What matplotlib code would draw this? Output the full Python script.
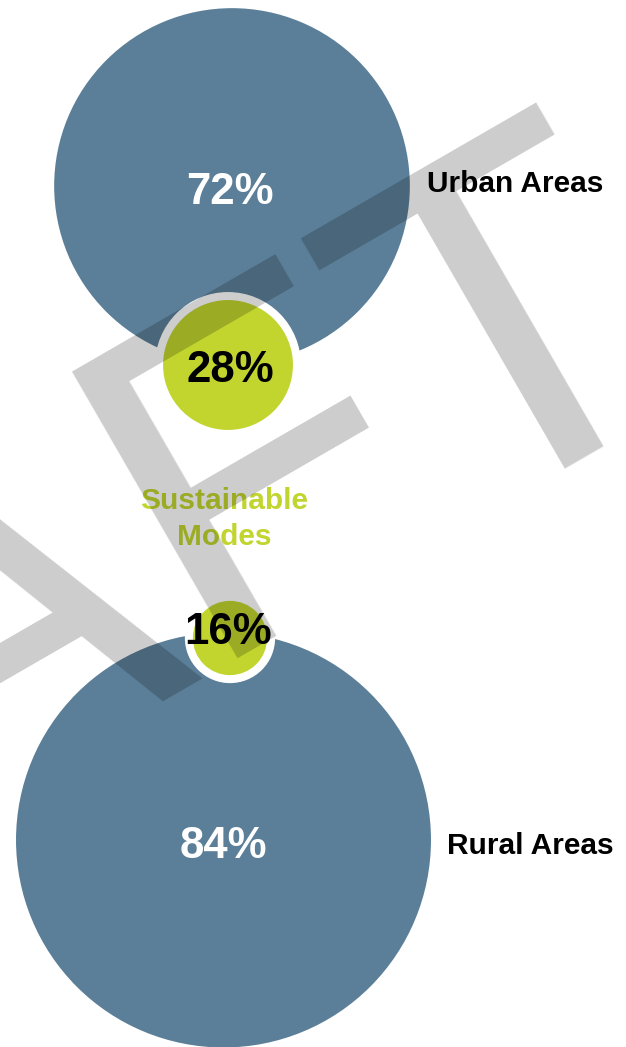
import matplotlib
matplotlib.use("Agg")
import matplotlib.pyplot as plt
from matplotlib.patches import Circle

# data
regions = ["Urban Areas", "Rural Areas"]
other_share = [72, 84]
sustainable_share = [28, 16]
middle_label = "Sustainable\nModes"

# layout (pixels, y down)
big_centers = [(232, 186), (223.5, 840)]
small_centers = [(228, 365), (230, 638)]
big_k = 2.47
small_k = 2.32
ring = 8
label_pos = [(427, 184), (447, 846)]
big_offset = [(-2, 6), (0, 6)]
pct_offset = [(2, 6), (-2, -5)]

blue = "#5b7f98"
green = "#c1d52e"

plt.rcParams["font.family"] = ["Liberation Sans", "DejaVu Sans"]

fig = plt.figure(figsize=(6.26, 10.47), dpi=100)
ax = fig.add_axes([0, 0, 1, 1])
ax.set_xlim(0, 626)
ax.set_ylim(1047, 0)
ax.axis("off")

for i in range(len(regions)):
    bx, by = big_centers[i]
    sx, sy = small_centers[i]
    rb = other_share[i] * big_k
    rs = sustainable_share[i] * small_k
    ax.add_patch(Circle((bx, by), rb, color=blue, lw=0, zorder=1))
    ax.add_patch(Circle((sx, sy), rs + ring, color="white", lw=0, zorder=2))
    ax.add_patch(Circle((sx, sy), rs, color=green, lw=0, zorder=3))
    ax.text(bx + big_offset[i][0], by + big_offset[i][1], f"{other_share[i]}%",
            color="white", fontsize=31.5, fontweight="bold", ha="center",
            va="center", zorder=4)
    ax.text(sx + pct_offset[i][0], sy + pct_offset[i][1], f"{sustainable_share[i]}%",
            color="black", fontsize=31.5, fontweight="bold", ha="center",
            va="center", zorder=4)
    ax.text(label_pos[i][0], label_pos[i][1], regions[i], color="black",
            fontsize=21.5, fontweight="bold", ha="left", va="center", zorder=4)

ax.text(224, 519, middle_label, color=green, fontsize=21.5, fontweight="bold",
        ha="center", va="center", linespacing=1.38, zorder=4)

# watermark
fig.text(707 / 626, 1 - 364 / 1047, "DRAFT", fontsize=346, rotation=30,
         rotation_mode="anchor", ha="right", va="baseline", color="black",
         alpha=0.2, zorder=10)

fig.savefig("out.png", dpi=100)
